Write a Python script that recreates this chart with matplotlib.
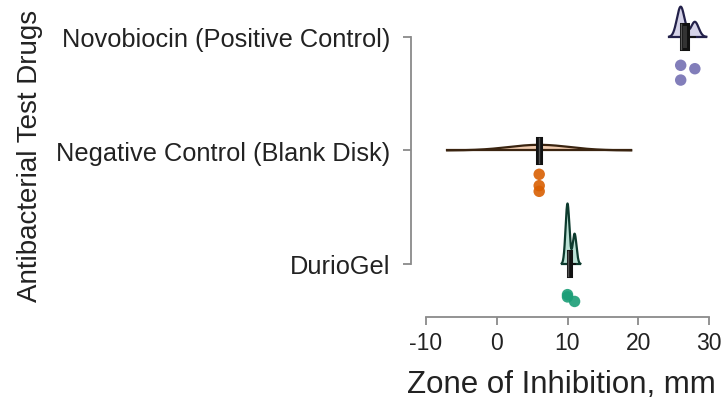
import numpy as np
import matplotlib.pyplot as plt
from matplotlib.patches import Rectangle

# data: zone of inhibition (mm), three replicates per drug
drugs = ["DurioGel", "Negative Control (Blank Disk)", "Novobiocin (Positive Control)"]
durio = [10, 10, 11]
negative = [6, 6, 6]
novobiocin = [26, 26, 28]
values = [durio, negative, novobiocin]

fill_cols = ["#1B9E77", "#D95F02", "#7570B3"]
line_cols = ["#0d3b2e", "#3a2410", "#23214a"]

# vertical offsets of the rain points below each baseline
jitter = [[0.27, 0.29, 0.33], [0.21, 0.31, 0.36], [0.38, 0.25, 0.28]]

plt.rcParams['font.family'] = ['Liberation Sans', 'DejaVu Sans']
text_col = "#222222"
axis_col = "#8a8a8a"


def bw_nrd0(x):
    x = np.asarray(x, float)
    hi = x.std(ddof=1)
    q = np.percentile(x, [25, 75])
    lo = min(hi, (q[1] - q[0]) / 1.34)
    if not lo:
        lo = hi or abs(x[0]) or 1.0
    return 0.9 * lo * len(x) ** -0.2


def density(x):
    x = np.asarray(x, float)
    bw = bw_nrd0(x)
    grid = np.linspace(x.min() - 3 * bw, x.max() + 3 * bw, 512)
    d = np.exp(-0.5 * ((grid[:, None] - x[None, :]) / bw) ** 2).sum(axis=1)
    d = d / (len(x) * bw * np.sqrt(2 * np.pi))
    return grid, d


fig = plt.figure(figsize=(7.24, 4.06), dpi=100)
ax = fig.add_axes([426 / 724, 88 / 406, 283 / 724, 313 / 406])
ax.set_xlim(-10, 30)
ax.set_ylim(0.533, 3.29)

scale = 0.54
box_h = 0.11
for i, vals in enumerate(values):
    y0 = i + 1
    g, d = density(vals)
    ax.fill_between(g, y0, y0 + d * scale, color=fill_cols[i], alpha=0.3,
                    lw=0, clip_on=False, zorder=2)
    ax.plot(g, y0 + d * scale, color=line_cols[i], lw=1.6, clip_on=False, zorder=3)
    ax.plot([g[0], g[-1]], [y0, y0], color=line_cols[i], lw=1.6, clip_on=False, zorder=3)

    # box
    q1, med, q3 = np.percentile(vals, [25, 50, 75])
    lo, hi = min(vals), max(vals)
    w = max(q3 - q1, 0.5)
    x0 = q1 if q3 > q1 else med - w / 2
    ax.plot([lo, hi], [y0, y0], color="#111111", lw=1.4, zorder=4)
    ax.add_patch(Rectangle((x0, y0 - box_h), w, 2 * box_h, facecolor="#333333",
                           edgecolor="#111111", lw=2.2, zorder=5))
    ax.plot([med, med], [y0 - box_h, y0 + box_h], color="#555555", lw=1.0, zorder=6)

    # rain
    ax.scatter(vals, [y0 - j for j in jitter[i]], s=68, color=fill_cols[i],
               edgecolor="none", alpha=0.9, zorder=4, clip_on=False)

for s in ["top", "right"]:
    ax.spines[s].set_visible(False)
ax.spines["left"].set_position(("outward", 10.8))
ax.spines["left"].set_bounds(1, 3)
ax.spines["bottom"].set_bounds(-10, 30)
for s in ["left", "bottom"]:
    ax.spines[s].set_color(axis_col)
    ax.spines[s].set_linewidth(1.3)

ax.set_xticks([-10, 0, 10, 20, 30])
ax.set_xticklabels(["-10", "0", "10", "20", "30"])
ax.set_yticks([1, 2, 3])
ax.set_yticklabels(drugs)
ax.tick_params(axis="both", colors=axis_col, width=1.3, length=6, labelcolor=text_col)
ax.tick_params(axis="y", labelsize=18.3, pad=9)
ax.tick_params(axis="x", labelsize=16.5, pad=4)

fig.text(561 / 724, 1 - 385 / 406, "Zone of Inhibition, mm", ha="center", va="center",
         fontsize=22.5, color=text_col)
fig.text(30 / 724, 1 - 156 / 406, "Antibacterial Test Drugs", ha="center", va="center",
         rotation=90, fontsize=20, color=text_col)

fig.savefig("out.png", dpi=100)
